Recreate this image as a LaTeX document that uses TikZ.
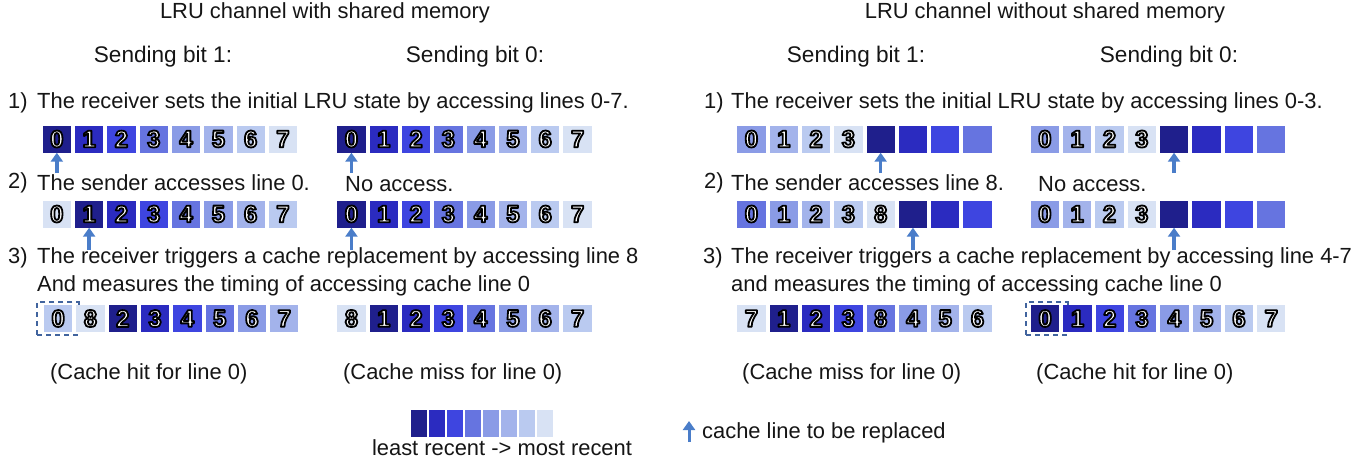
\documentclass[tikz,border=0pt]{standalone}
\usepackage{fontspec}
\setmainfont{Liberation Sans}
\newfontfamily\digfont{Liberation Sans}[BoldFont={* Bold}]
\usetikzlibrary{arrows.meta}
\definecolor{c1}{HTML}{1F1F8C}
\definecolor{c2}{HTML}{2B2BC0}
\definecolor{c3}{HTML}{3E45E0}
\definecolor{c4}{HTML}{6674E0}
\definecolor{c5}{HTML}{8A9BE6}
\definecolor{c6}{HTML}{A3B3EB}
\definecolor{c7}{HTML}{BACAF0}
\definecolor{c8}{HTML}{D8E2F4}
\definecolor{arrblue}{HTML}{4A7DC9}
\definecolor{dashblue}{HTML}{41649E}
\definecolor{txt}{HTML}{151515}
\newcommand\dig[1]{\textcolor{white}{\special{pdf:literal direct 2 Tr 1.8 w 0 G 1 j}#1\special{pdf:literal direct 0 Tr 1 w}}}
\newcommand\cellrow[4]{%
  \foreach \d/\c [count=\i from 0] in {#4} {%
    \node[cellbox,fill=c\c] (#1c\i) at ({#2+\i*32.3+14.15},{#3+13.5}) {\dig{\d}};
  }%
}
\tikzset{
  cellbox/.style={minimum width=28.3pt,minimum height=27pt,inner sep=0pt,draw=none,font=\digfont\bfseries\fontsize{24}{25}\selectfont},
  lbl/.style={anchor=west,inner sep=0pt,text=txt,font=\fontsize{21.9}{25}\selectfont},
  ctr/.style={anchor=center,inner sep=0pt,text=txt,font=\fontsize{21.9}{25}\selectfont},
  hdr/.style={anchor=center,inner sep=0pt,text=txt,font=\fontsize{22.6}{25}\selectfont},
  uparr/.style={draw=arrblue,line width=3.5pt,-{Triangle[width=12pt,length=9pt]}},
  dbox/.style={draw=dashblue,line width=1.8pt,dash pattern=on 5pt off 4pt,minimum width=41.7pt,minimum height=32.7pt,inner sep=0pt},
  legcell/.style={minimum width=16pt,minimum height=27pt,inner sep=0pt,draw=none}
}
\begin{document}
\begin{tikzpicture}[x=1pt,y=-1pt]
\useasboundingbox (0,0) rectangle (1370,466);
% titles
\node[ctr] (tl) at (325,13) {LRU channel with shared memory};
\node[ctr] (tr) at (1045,13) {LRU channel without shared memory};
\node[hdr] (sl1) at (163,57) {Sending bit 1:};
\node[hdr] (sl0) at (475,57) {Sending bit 0:};
\node[hdr] (sr1) at (856,57) {Sending bit 1:};
\node[hdr] (sr0) at (1169,57) {Sending bit 0:};
% left steps
\node[lbl] (ln1) at (8,103) {1)};
\node[lbl] (lt1) at (37,103) {The receiver sets the initial LRU state by accessing lines 0-7.};
\node[lbl] (ln2) at (8,183) {2)};
\node[lbl] (lt2) at (37,183) {The sender accesses line 0.};
\node[lbl] (lna) at (345,184) {No access.};
\node[lbl] (ln3) at (8,258) {3)};
\node[lbl] (lt3) at (37,258) {The receiver triggers a cache replacement by accessing line 8};
\node[lbl] (lt4) at (37,286) {And measures the timing of accessing cache line 0};
\node[lbl] (lh) at (50,374) {(Cache hit for line 0)};
\node[lbl] (lm) at (343,374) {(Cache miss for line 0)};
% right steps
\node[lbl] (rn1) at (704,103) {1)};
\node[lbl] (rt1) at (731,103) {The receiver sets the initial LRU state by accessing lines 0-3.};
\node[lbl] (rn2) at (704,183) {2)};
\node[lbl] (rt2) at (731,183) {The sender accesses line 8.};
\node[lbl] (rna) at (1038,184) {No access.};
\node[lbl] (rn3) at (703,258) {3)};
\node[lbl] (rt3) at (731,258) {The receiver triggers a cache replacement by accessing line 4-7};
\node[lbl] (rt4) at (731,286) {and measures the timing of accessing cache line 0};
\node[lbl] (rm) at (742,374) {(Cache miss for line 0)};
\node[lbl] (rh) at (1036,374) {(Cache hit for line 0)};
% dashed boxes (behind cells)
\node[dbox] (hitL) at (58.2,318.7) {};
\node[dbox] (hitR) at (1047,318.7) {};
% cell rows
\cellrow{La}{42.7}{125.5}{0/1,1/2,2/3,3/4,4/5,5/6,6/7,7/8}
\cellrow{Lb}{42.7}{200.5}{0/8,1/1,2/2,3/3,4/4,5/5,6/6,7/7}
\cellrow{Lc}{44}{305}{0/7,8/8,2/1,3/2,4/3,5/4,6/5,7/6}
\cellrow{Ma}{337.3}{125.5}{0/1,1/2,2/3,3/4,4/5,5/6,6/7,7/8}
\cellrow{Mb}{337.3}{200.5}{0/1,1/2,2/3,3/4,4/5,5/6,6/7,7/8}
\cellrow{Mc}{337.3}{305}{8/8,1/1,2/2,3/3,4/4,5/5,6/6,7/7}
\cellrow{Ra}{737.3}{125.5}{0/5,1/6,2/7,3/8,{}/1,{}/2,{}/3,{}/4}
\cellrow{Rb}{737.3}{200.5}{0/4,1/5,2/6,3/7,8/8,{}/1,{}/2,{}/3}
\cellrow{Rc}{737.3}{305}{7/8,1/1,2/2,3/3,8/4,4/5,5/6,6/7}
\cellrow{Sa}{1030.7}{125.5}{0/5,1/6,2/7,3/8,{}/1,{}/2,{}/3,{}/4}
\cellrow{Sb}{1030.7}{200.5}{0/5,1/6,2/7,3/8,{}/1,{}/2,{}/3,{}/4}
\cellrow{Sc}{1031}{305}{0/1,1/2,2/3,3/4,4/5,5/6,6/7,7/8}
% replacement arrows
\coordinate (aLa) at (Lac0.south |- 0,173);
\coordinate (aLb) at (Lbc1.south |- 0,250);
\coordinate (aMa) at (Mac0.south |- 0,173);
\coordinate (aMb) at (Mbc0.south |- 0,250);
\coordinate (aRa) at (Rac4.south |- 0,173);
\coordinate (aRb) at (Rbc5.south |- 0,250);
\coordinate (aSa) at (Sac4.south |- 0,173);
\coordinate (aSb) at (Sbc4.south |- 0,250);
\draw[uparr] (aLa) -- (Lac0.south);
\draw[uparr] (aLb) -- (Lbc1.south);
\draw[uparr] (aMa) -- (Mac0.south);
\draw[uparr] (aMb) -- (Mbc0.south);
\draw[uparr] (aRa) -- (Rac4.south);
\draw[uparr] (aRb) -- (Rbc5.south);
\draw[uparr] (aSa) -- (Sac4.south);
\draw[uparr] (aSb) -- (Sbc4.south);
% legend
\foreach \c [count=\i from 0] in {1,2,3,4,5,6,7,8} {
  \node[legcell,fill=c\c] (lg\c) at ({418.6+\i*18.1},423.5) {};
}
\node[ctr] (lgt) at (502,448) {least recent -> most recent};
\coordinate (lga) at (689,442);
\coordinate (lgb) at (689,421);
\draw[uparr,line width=3pt] (lga) -- (lgb);
\node[lbl] (lgr) at (702,433) {cache line to be replaced};
\end{tikzpicture}
\end{document}
